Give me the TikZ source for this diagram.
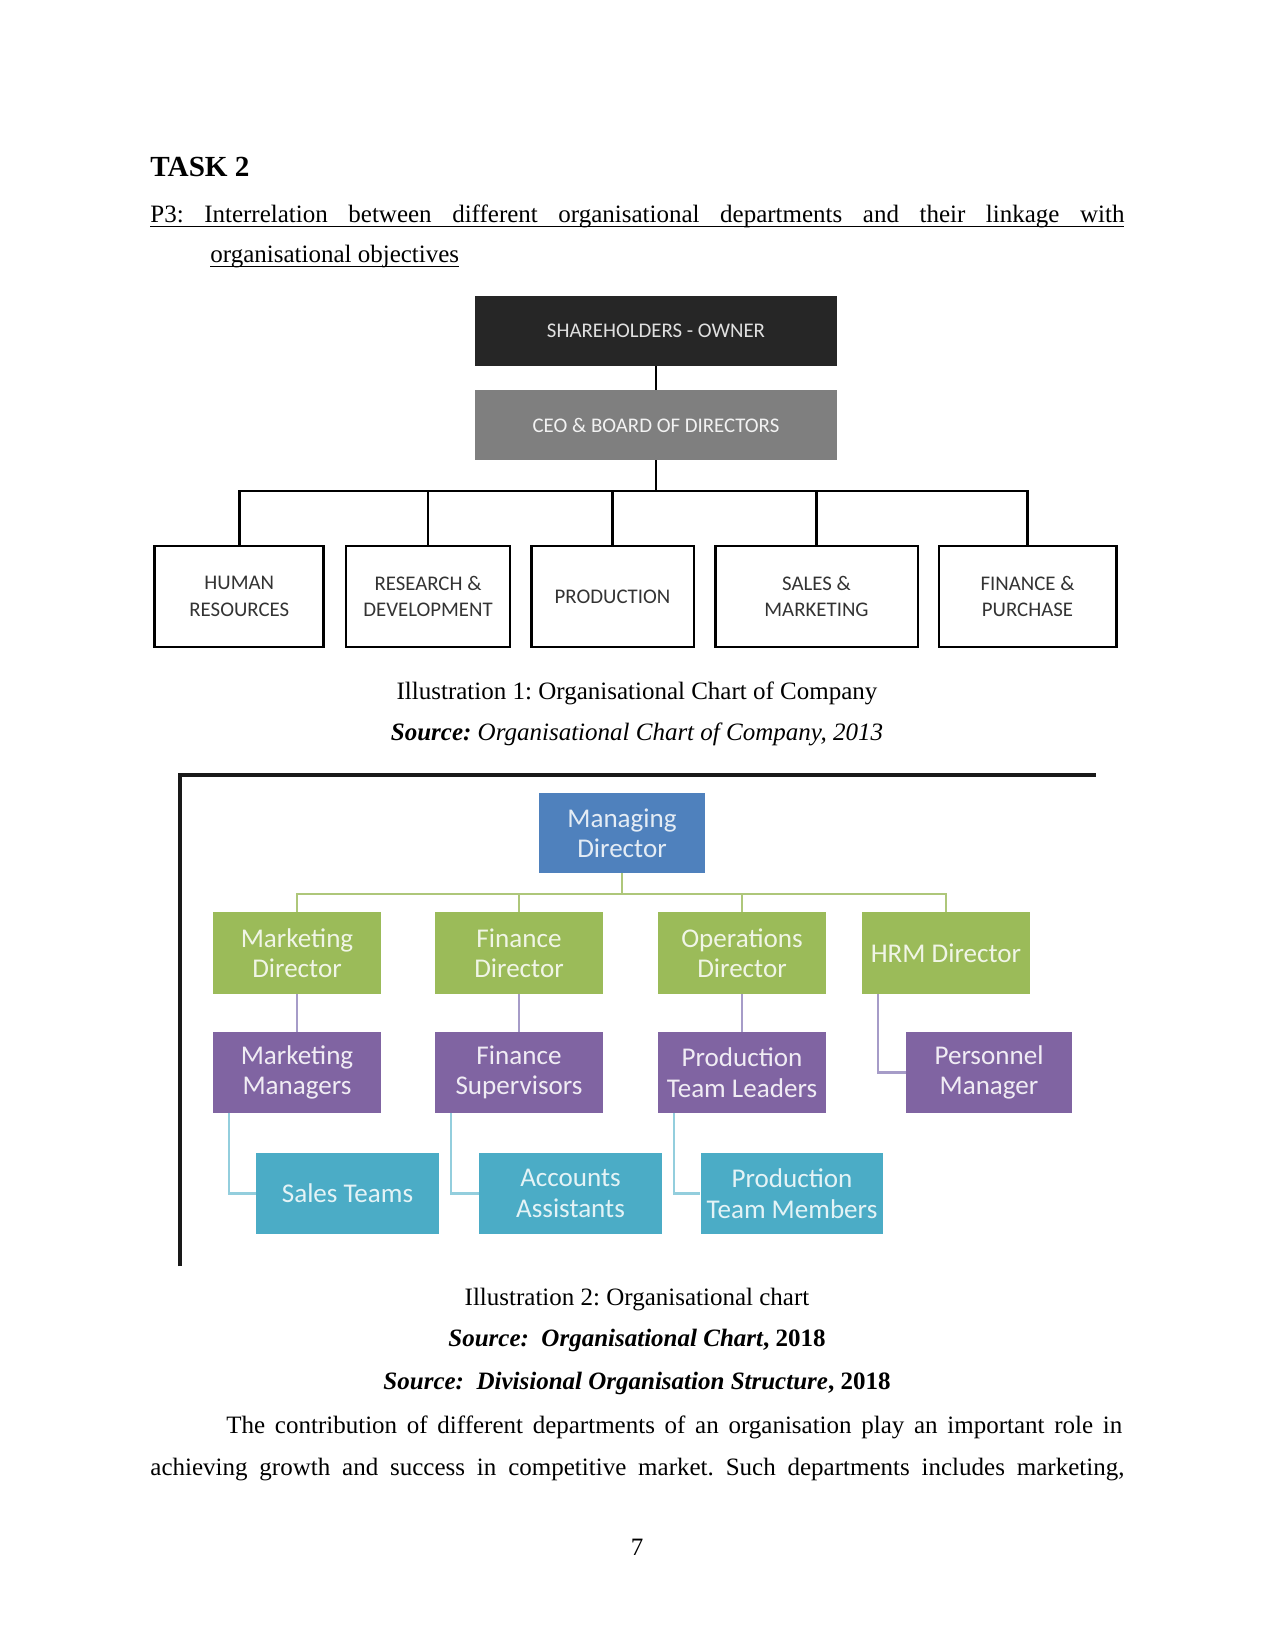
\documentclass[tikz,border=0pt]{standalone}
\usepackage{fontspec}
\setmainfont{Liberation Serif}
\newfontfamily\chartfont{Carlito}
\frenchspacing
\definecolor{sharedark}{HTML}{262626}
\definecolor{ceogray}{HTML}{7F7F7F}
\definecolor{mdblue}{HTML}{4F81BD}
\definecolor{dirgreen}{HTML}{9BBB59}
\definecolor{mgrpurple}{HTML}{8064A2}
\definecolor{teamteal}{HTML}{4BACC6}
\definecolor{greenlink}{HTML}{AEC77A}
\definecolor{purplelink}{HTML}{A69CC8}
\definecolor{teallink}{HTML}{93CEDD}
% underlined line, spread to a given width
\newcommand\ulspread[2]{\rlap{\rule[-2pt]{#1}{0.6pt}}\makebox[#1][s]{#2}}
% underlined text at natural width
\newcommand\ulnat[1]{\setbox0\hbox{#1}\rlap{\rule[-2pt]{\wd0}{0.6pt}}\box0}
\begin{document}
\begin{tikzpicture}[x=0.48pt, y=-0.48pt,
  txt/.style={inner sep=0pt, anchor=base west, font=\fontsize{12}{14}\selectfont},
  captxt/.style={inner sep=0pt, anchor=base, font=\fontsize{12}{14}\selectfont},
  topbox/.style={inner sep=0pt, minimum width=173.3pt, minimum height=33.4pt, font=\chartfont\fontsize{10}{12}\selectfont},
  dept/.style={draw, line width=1.4pt, inner sep=0pt, minimum height=48.5pt, align=center, text=black!80, font=\chartfont\fontsize{10}{12.6}\selectfont},
  tie/.style={line width=1.2pt},
  orgbox/.style={inner sep=0pt, minimum height=38.9pt, align=center, font=\chartfont\fontsize{13}{14.6}\selectfont},
  dirbox/.style={orgbox, fill=dirgreen, text=white!85!dirgreen, minimum width=80.6pt, minimum height=39.4pt},
  mgrbox/.style={orgbox, fill=mgrpurple, text=white!88!mgrpurple, minimum width=80.6pt},
  teambox/.style={orgbox, fill=teamteal, text=white!85!teamteal, minimum width=87.8pt},
  glink/.style={greenlink, line width=1pt},
  plink/.style={purplelink, line width=1pt},
  tlink/.style={teallink, line width=1pt}
]
\useasboundingbox (0,0) rectangle (1275,1650);

% Heading
\node[txt, font=\fontsize{14}{16}\selectfont\bfseries] (task) at (150,177) {TASK 2};
\node[txt] (p3a) at (150,223) {\ulspread{467.5pt}{P3: Interrelation between different organisational departments and their linkage with}};
\node[txt] (p3b) at (210,263) {\ulnat{organisational objectives}};

% Chart 1: shareholders and departments
\node[topbox, fill=sharedark, text=white!88!black] (share) at (656,331) {SHAREHOLDERS - OWNER};
\node[topbox, fill=ceogray, text=white!90!ceogray] (ceo) at (656,425) {CEO \& BOARD OF DIRECTORS};

\node[dept, minimum width=81.1pt] (hr) at (239.3,596.5) {HUMAN\\RESOURCES};
\node[dept, minimum width=78.7pt] (rd) at (428,596.5) {RESEARCH \&\\DEVELOPMENT};
\node[dept, minimum width=78.2pt] (prod) at (612.5,596.5) {PRODUCTION};
\node[dept, minimum width=97.4pt] (sales) at (816.5,596.5) {SALES \&\\MARKETING};
\node[dept, minimum width=85pt] (fin) at (1027.5,596.5) {FINANCE \&\\PURCHASE};

\coordinate (bus) at (656,491);
\draw[tie] (share) -- (ceo);
\draw[tie] (ceo) -- (bus);
\foreach \d in {hr,rd,prod,sales,fin}
  \draw[tie] (bus) -| (\d);

\node[captxt] (cap1) at (637,699) {Illustration 1: Organisational Chart of Company};
\node[captxt] (src1) at (637,740) {\textbf{\textit{Source:}} \textit{Organisational Chart of Company, 2013}};

% Chart 2: frame
\draw[line width=1.5pt, black!90] (180,1266) -- (180,775) -- (1096,775);

% Managing director and directors
\node[orgbox, fill=mdblue, text=white!85!mdblue, minimum width=79.7pt, minimum height=38.4pt] (md) at (622,833) {Managing\\Director};

\node[dirbox] (mkd) at (297,953) {Marketing\\Director};
\node[dirbox] (fnd) at (519,953) {Finance\\Director};
\node[dirbox] (opd) at (742,953) {Operations\\Director};
\node[dirbox] (hrd) at (946,953) {HRM Director};

% Managers
\node[mgrbox] (mkm) at (297,1072.5) {Marketing\\Managers};
\node[mgrbox] (fns) at (519,1072.5) {Finance\\Supervisors};
\node[mgrbox] (ptl) at (742,1072.5) {Production\\Team Leaders};
\node[mgrbox, minimum width=79.7pt] (pm) at (989,1072.5) {Personnel\\Manager};

% Teams
\node[teambox] (st) at (347.5,1193.5) {Sales Teams};
\node[teambox] (aa) at (570.5,1193.5) {Accounts\\Assistants};
\node[teambox] (ptm) at (792,1193.5) {Production\\Team Members};

\coordinate (gbus) at (622,894);
\draw[glink] (md) -- (gbus);
\foreach \d in {mkd,fnd,opd,hrd}
  \draw[glink] (gbus) -| (\d);
\foreach \a/\b in {mkd/mkm,fnd/fns,opd/ptl}
  \draw[plink] (\a) -- (\b);
\draw[plink] ([xshift=7.7pt]hrd.south west) |- (pm);
\foreach \a/\b in {mkm/st,fns/aa,ptl/ptm}
  \draw[tlink] ([xshift=8pt]\a.south west) |- (\b);

% Captions and text
\node[captxt] (cap2) at (637,1305) {Illustration 2: Organisational chart};
\node[captxt] (src2) at (637,1346) {\textbf{\textit{Source:~ Organisational Chart}, 2018}};
\node[captxt] (src3) at (637,1389) {\textbf{\textit{Source:~ Divisional Organisation Structure}, 2018}};
\node[txt] (para1) at (226,1433) {\makebox[430pt][s]{The contribution of different departments of an organisation play an important role in}};
\node[txt] (para2) at (150,1475) {\makebox[467.5pt][s]{achieving growth and success in competitive market. Such departments includes marketing,}};
\node[captxt] (page) at (637,1555) {7};
\end{tikzpicture}
\end{document}
